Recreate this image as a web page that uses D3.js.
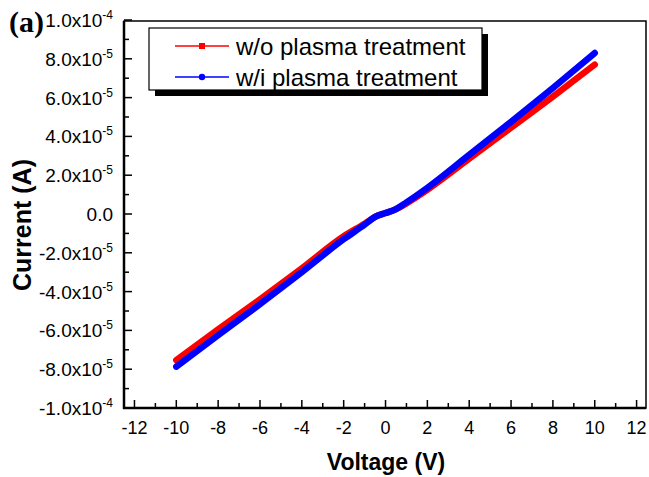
<!DOCTYPE html>
<html><head><meta charset="utf-8">
<script src="https://cdn.jsdelivr.net/npm/d3@7"></script>
<style>body{margin:0;background:#fff}</style>
</head><body>
<svg id="c" width="649" height="477"></svg>
<script>
const voltage = [-10,-8,-6,-4,-2,-1,-0.5,0,0.5,1,2,4,6,8,10];
const currentWo = [-7.53e-5,-5.95e-5,-4.40e-5,-2.80e-5,-1.15e-5,-0.50e-5,-0.15e-5,0.05e-5,0.25e-5,0.55e-5,1.25e-5,2.85e-5,4.45e-5,6.05e-5,7.70e-5];
const currentWi = [-7.87e-5,-6.25e-5,-4.65e-5,-3.00e-5,-1.30e-5,-0.55e-5,-0.15e-5,0.05e-5,0.25e-5,0.60e-5,1.35e-5,3.05e-5,4.75e-5,6.50e-5,8.30e-5];
const seriesNames = ["w/o plasma treatment","w/i plasma treatment"];
const xTicks = [-12,-10,-8,-6,-4,-2,0,2,4,6,8,10,12];
const yTickMant = ["1.0","8.0","6.0","4.0","2.0","0.0","-2.0","-4.0","-6.0","-8.0","-1.0"];
const yTickExp = ["-4","-5","-5","-5","-5","","-5","-5","-5","-5","-4"];
const yTickVals = [1e-4,8e-5,6e-5,4e-5,2e-5,0,-2e-5,-4e-5,-6e-5,-8e-5,-1e-4];

const svg = d3.select("#c");
const L=124,R=646,T=21,B=408;
const x = d3.scaleLinear().domain([-12.5,12.45]).range([L,R]);
const y = d3.scaleLinear().domain([-1e-4,1e-4]).range([B,20]);
const font = "Arial, 'Liberation Sans', sans-serif";

// frame
svg.append("rect").attr("x",L).attr("y",T).attr("width",R-L).attr("height",B-T)
  .attr("fill","none").attr("stroke","#000").attr("stroke-width",1.5);

// x ticks (inward)
const xAxis = svg.append("g");
d3.range(-12,13,1).forEach(v=>{
  const major = v%2===0;
  xAxis.append("line").attr("x1",x(v)).attr("x2",x(v)).attr("y1",B).attr("y2",B-(major?8:5))
    .attr("stroke","#000").attr("stroke-width",1.5);
});
xTicks.forEach(v=>{
  xAxis.append("text").attr("x",x(v)).attr("y",434).attr("text-anchor","middle")
    .attr("font-family",font).attr("font-size",18).text(v);
});
// y ticks
d3.range(-10,11,1).forEach(k=>{
  const v=k*1e-5, major = k%2===0;
  svg.append("line").attr("x1",L).attr("x2",L+(major?8:5)).attr("y1",y(v)).attr("y2",y(v))
    .attr("stroke","#000").attr("stroke-width",1.5);
});
yTickVals.forEach((v,i)=>{
  const t = svg.append("text").attr("x",113).attr("y",y(v)+7).attr("text-anchor","end")
    .attr("font-family",font).attr("font-size",19);
  if(yTickExp[i]===""){ t.text(yTickMant[i]); }
  else {
    t.append("tspan").text(yTickMant[i]+"x10");
    t.append("tspan").attr("dy",-8).attr("font-size",12).text(yTickExp[i]);
  }
});
// axes lines thicker left/bottom
svg.append("line").attr("x1",L).attr("x2",L).attr("y1",T).attr("y2",B+1).attr("stroke","#000").attr("stroke-width",2.5);
svg.append("line").attr("x1",L-1).attr("x2",R).attr("y1",B).attr("y2",B).attr("stroke","#000").attr("stroke-width",2.5);

// data
const line = d3.line().x(d=>x(d[0])).y(d=>y(d[1])).curve(d3.curveMonotoneX);
svg.append("path").datum(voltage.map((v,i)=>[v,currentWo[i]])).attr("d",line)
  .attr("fill","none").attr("stroke","#ff0000").attr("stroke-width",6.5).attr("stroke-linecap","round");
svg.append("path").datum(voltage.map((v,i)=>[v,currentWi[i]])).attr("d",line)
  .attr("fill","none").attr("stroke","#0000ff").attr("stroke-width",6.5).attr("stroke-linecap","round");

// legend
svg.append("rect").attr("x",155).attr("y",34).attr("width",333).attr("height",62).attr("fill","#000");
svg.append("rect").attr("x",149).attr("y",28).attr("width",333).attr("height",62).attr("fill","#fff").attr("stroke","#000").attr("stroke-width",1.2);
const colors=["#ff0000","#0000ff"];
[46,77].forEach((ly,i)=>{
  svg.append("line").attr("x1",175).attr("x2",229).attr("y1",ly).attr("y2",ly).attr("stroke",colors[i]).attr("stroke-width",1.5);
  if(i===0) svg.append("rect").attr("x",199).attr("y",ly-3).attr("width",6).attr("height",6).attr("fill",colors[i]);
  else svg.append("circle").attr("cx",202).attr("cy",ly).attr("r",3.2).attr("fill",colors[i]);
  svg.append("text").attr("x",236).attr("y",ly+9).attr("font-family",font).attr("font-size",24).text(seriesNames[i]);
});

// titles
svg.append("text").attr("x",386).attr("y",470).attr("text-anchor","middle").attr("font-family",font)
  .attr("font-weight","bold").attr("font-size",23).text("Voltage (V)");
svg.append("text").attr("transform","translate(31,225) rotate(-90)").attr("text-anchor","middle").attr("font-family",font)
  .attr("font-weight","bold").attr("font-size",25).text("Current (A)");
svg.append("text").attr("x",9).attr("y",32).attr("font-family","'Liberation Serif', 'Times New Roman', serif")
  .attr("font-weight","bold").attr("font-size",30).text("(a)");
</script>
</body></html>
